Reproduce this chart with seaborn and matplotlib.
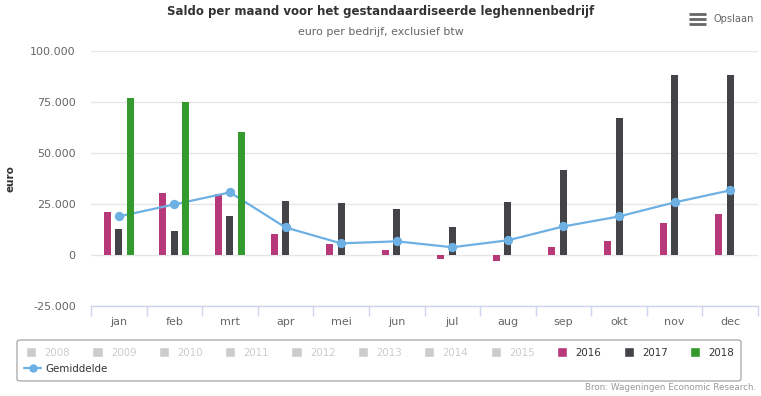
import numpy as np
import pandas as pd
import matplotlib.pyplot as plt
import seaborn as sns
from matplotlib.patches import Patch, FancyBboxPatch
from matplotlib.lines import Line2D
from matplotlib.ticker import FuncFormatter, FixedLocator

# Data (euro per bedrijf)
maanden = ["jan", "feb", "mrt", "apr", "mei", "jun", "jul", "aug", "sep", "okt", "nov", "dec"]
saldo_2016 = [21200, 30200, 30000, 10100, 5200, 2300, -2100, -3100, 3800, 6700, 15500, 19900]
saldo_2017 = [12600, 11600, 19000, 26300, 25300, 22400, 13500, 25800, 41500, 67000, 88000, 88000]
saldo_2018 = [76800, 75000, 60100]
gemiddelde = [18900, 24800, 30700, 13500, 5700, 6700, 3800, 7200, 14000, 18900, 25800, 31700]
jaren = ["2016", "2017", "2018"]
grijze_jaren = ["2008", "2009", "2010", "2011", "2012", "2013", "2014", "2015"]
yticks = [-25000, 0, 25000, 50000, 75000, 100000]

kleuren = {"2016": "#b7397a", "2017": "#434348", "2018": "#339a2d"}
lijnkleur = "#6db0e3"

rows = []
for jaar, reeks in zip(jaren, [saldo_2016, saldo_2017, saldo_2018]):
    for maand, waarde in zip(maanden, reeks):
        rows.append({"maand": maand, "jaar": jaar, "saldo": waarde})
df = pd.DataFrame(rows)

sns.set_style("white")
plt.rcParams["font.family"] = ["DejaVu Sans"]

W, H = 761, 396
fig = plt.figure(figsize=(W / 100, H / 100), dpi=100)
ax = fig.add_axes([91 / W, 1 - 306 / H, (758 - 91) / W, (306 - 51) / H])

sns.barplot(data=df, x="maand", y="saldo", hue="jaar", order=maanden,
            hue_order=jaren, palette=kleuren, width=0.62, gap=0.39,
            saturation=1, linewidth=0, legend=False, ax=ax)

for jaar, cont in zip(jaren, ax.containers):
    for bar in cont:
        bar.set_zorder(4 if jaar == "2018" else 2)

sns.pointplot(x=maanden, y=gemiddelde, order=maanden, color=lijnkleur,
              markers="o", markersize=5.5, linewidth=1.6, ax=ax, zorder=3)

ax.set_xlim(-0.5, len(maanden) - 0.5)
ax.set_ylim(yticks[0], yticks[-1])
ax.yaxis.set_major_locator(FixedLocator(yticks))
ax.yaxis.set_major_formatter(FuncFormatter(lambda v, p: f"{int(v):,}".replace(",", ".")))
ax.grid(axis="y", color="#e6e6e6", linewidth=1, zorder=0)
ax.set_axisbelow(True)

for s in ["top", "right", "left"]:
    ax.spines[s].set_visible(False)
ax.spines["bottom"].set_color("#ccd6eb")
ax.spines["bottom"].set_linewidth(1)

ax.set_xticks(np.arange(-0.5, len(maanden)), minor=True)
ax.tick_params(axis="x", which="minor", bottom=True, length=7, color="#ccd6eb", width=1)
ax.tick_params(axis="x", which="major", length=0, pad=8, labelsize=8, labelcolor="#666666")
ax.tick_params(axis="y", length=0, pad=11, labelsize=8, labelcolor="#666666")

ax.set_xlabel("")
ax.set_ylabel("euro", fontsize=7.5, fontweight="bold", color="#333333")
ax.yaxis.set_label_coords(-0.113, 0.5)

# Titels
fig.text(0.5, 1 - 12 / H, "Saldo per maand voor het gestandaardiseerde leghennenbedrijf",
         ha="center", va="center", fontsize=8.5, fontweight="bold", color="#333333")
fig.text(0.5, 1 - 32 / H, "euro per bedrijf, exclusief btw",
         ha="center", va="center", fontsize=7.9, color="#666666")

# Opslaan-knop
for yy in [14, 19, 24]:
    fig.add_artist(Line2D([689 / W, 706 / W], [1 - yy / H, 1 - yy / H],
                          color="#666666", linewidth=2.0, solid_capstyle="butt"))
fig.text(713 / W, 1 - 19 / H, "Opslaan", ha="left", va="center", fontsize=7.1,
         color="#666666")

# Legenda
fig.add_artist(FancyBboxPatch((17 / W, 1 - 381 / H), (741 - 17) / W, (381 - 340) / H,
                              boxstyle="round,pad=0,rounding_size=0.005",
                              transform=fig.transFigure, facecolor="none",
                              edgecolor="#999999", linewidth=0.8))

handles = [Patch(facecolor="#cccccc") for _ in grijze_jaren] + \
          [Patch(facecolor=kleuren[j]) for j in jaren]
labels = grijze_jaren + jaren
leg = fig.legend(handles, labels, loc="center left", bbox_to_anchor=(26 / W, 1 - 352.5 / H),
                 ncol=len(labels), frameon=False, fontsize=7.4, handlelength=1.0,
                 handleheight=1.0, handletextpad=0.8, columnspacing=2.16, borderpad=0,
                 borderaxespad=0)
for txt, lab in zip(leg.get_texts(), labels):
    txt.set_color("#cccccc" if lab in grijze_jaren else "#333333")

leg2 = fig.legend([Line2D([0], [0], color=lijnkleur, marker="o", markersize=5, linewidth=1.6)],
                  ["Gemiddelde"], loc="center left", bbox_to_anchor=(24 / W, 1 - 369 / H),
                  frameon=False, fontsize=7.4, handlelength=1.7, handletextpad=0.4,
                  borderpad=0, borderaxespad=0)
leg2.get_texts()[0].set_color("#333333")

fig.text(756 / W, 1 - 388 / H, "Bron: Wageningen Economic Research.", ha="right",
         va="center", fontsize=6.3, color="#999999")

fig.savefig("out.png", dpi=100)
